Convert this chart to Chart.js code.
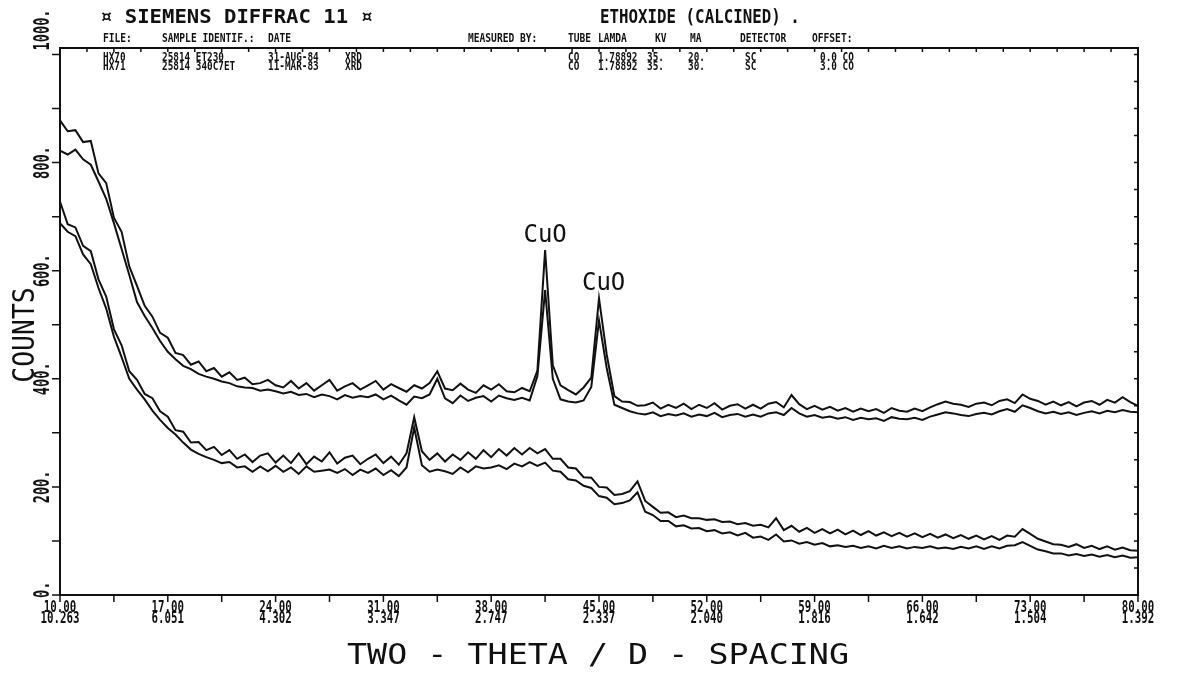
<!DOCTYPE html>
<html>
<head>
<meta charset="utf-8">
<script src="https://cdn.jsdelivr.net/npm/chart.js@4.4.0/dist/chart.umd.min.js"></script>
<style>
  html, body { margin: 0; padding: 0; background: #fff; }
  #wrap { position: relative; width: 1200px; height: 674px; }
</style>
</head>
<body>
<div id="wrap"><canvas id="xrd"></canvas></div>
<script>
// 2-theta sampling positions (degrees)
const twoTheta = [
  10, 10.5, 11, 11.5, 12, 12.5, 13, 13.5, 14, 14.5,
  15, 15.5, 16, 16.5, 17, 17.5, 18, 18.5, 19, 19.5,
  20, 20.5, 21, 21.5, 22, 22.5, 23, 23.5, 24, 24.5,
  25, 25.5, 26, 26.5, 27, 27.5, 28, 28.5, 29, 29.5,
  30, 30.5, 31, 31.5, 32, 32.5, 33, 33.5, 34, 34.5,
  35, 35.5, 36, 36.5, 37, 37.5, 38, 38.5, 39, 39.5,
  40, 40.5, 41, 41.5, 42, 42.5, 43, 43.5, 44, 44.5,
  45, 45.5, 46, 46.5, 47, 47.5, 48, 48.5, 49, 49.5,
  50, 50.5, 51, 51.5, 52, 52.5, 53, 53.5, 54, 54.5,
  55, 55.5, 56, 56.5, 57, 57.5, 58, 58.5, 59, 59.5,
  60, 60.5, 61, 61.5, 62, 62.5, 63, 63.5, 64, 64.5,
  65, 65.5, 66, 66.5, 67, 67.5, 68, 68.5, 69, 69.5,
  70, 70.5, 71, 71.5, 72, 72.5, 73, 73.5, 74, 74.5,
  75, 75.5, 76, 76.5, 77, 77.5, 78, 78.5, 79, 79.5,
  80
];

// calcined sample, two scans (CuO peaks)
const upperScanA = [
  878, 858, 860, 838, 840, 780, 762, 698, 672, 608,
  572, 535, 515, 485, 476, 448, 444, 426, 432, 414,
  420, 404, 412, 398, 402, 390, 392, 398, 388, 384,
  396, 382, 392, 378, 388, 398, 378, 386, 392, 380,
  388, 396, 380, 390, 383, 376, 388, 382, 392, 414,
  382, 379, 391, 380, 374, 388, 380, 390, 377, 375,
  383, 377, 415, 638, 425, 388, 379, 371, 384, 402,
  549, 445, 368, 358, 357, 350, 351, 356, 345, 352,
  346, 354, 344, 352, 346, 355, 343, 350, 353, 345,
  352, 345, 354, 357, 347, 370, 353, 344, 350, 343,
  348, 341, 346, 339, 345, 340, 344, 337, 346, 341,
  339, 345, 340, 347, 353, 358, 354, 352, 348, 354,
  356, 351, 359, 362, 355, 371, 363, 359, 352, 358,
  351, 357, 349, 356, 359, 352, 361, 356, 366, 357,
  350
];
const upperScanB = [
  822, 815, 824, 806, 796, 765, 733, 688, 640, 592,
  542, 516, 494, 470, 450, 436, 424, 418, 409, 404,
  400, 395, 392, 386, 384, 383, 378, 380, 377, 373,
  376, 370, 372, 366, 371, 368, 362, 370, 365, 368,
  366, 371, 362, 369, 360, 352, 367, 364, 371, 400,
  364, 355, 369, 359, 365, 368, 358, 369, 364, 361,
  365, 360, 405, 564, 400, 362, 358, 356, 360, 385,
  508, 420, 352, 346, 340, 336, 334, 338, 331, 335,
  332, 336, 330, 334, 331, 337, 329, 333, 335, 330,
  334, 330, 336, 338, 333, 346, 336, 330, 333, 328,
  330, 326, 329, 324, 328, 325, 327, 322, 329, 326,
  325, 328, 324, 330, 334, 338, 336, 333, 331, 335,
  337, 334, 340, 344, 339, 351, 346, 340, 336, 339,
  335, 338, 333, 337, 340, 336, 341, 338, 342, 339,
  338
];

// ethoxide sample, two scans
const lowerScanA = [
  728, 686, 680, 646, 636, 584, 552, 492, 462, 414,
  398, 372, 364, 340, 330, 305, 302, 282, 283, 268,
  274, 259, 268, 252, 260, 246, 258, 262, 245, 258,
  244, 262, 242, 256, 247, 264, 243, 254, 258, 242,
  252, 260, 244, 256, 241, 262, 329, 266, 250, 262,
  247, 260, 250, 264, 252, 268, 255, 270, 258, 272,
  260, 272, 262, 270, 252, 252, 236, 234, 218, 217,
  200, 199, 185, 187, 192, 210, 174, 163, 152, 153,
  144, 147, 142, 142, 139, 140, 135, 136, 131, 133,
  128, 130, 125, 142, 120, 128, 117, 124, 115, 122,
  114, 121, 112, 119, 111, 118, 110, 116, 109, 115,
  108, 114, 107, 113, 106, 112, 105, 111, 104, 110,
  103, 109, 102, 110, 108, 122, 113, 104, 99, 94,
  93, 89, 94, 87, 91, 85, 90, 84, 88, 83,
  82
];
const lowerScanB = [
  688, 672, 664, 630, 612, 568, 530, 478, 440, 400,
  380, 362, 341, 324, 309, 297, 282, 269, 261, 255,
  250, 244, 246, 236, 238, 228, 238, 229, 239, 228,
  236, 224, 238, 228, 230, 232, 226, 233, 222, 232,
  226, 234, 222, 231, 220, 236, 310, 240, 228, 232,
  229, 224, 236, 227, 238, 234, 236, 240, 233, 243,
  238, 246, 239, 245, 230, 228, 214, 212, 202, 198,
  183, 180, 168, 170, 175, 190, 154, 148, 137, 137,
  127, 129, 123, 124, 118, 120, 114, 116, 110, 115,
  106, 108, 102, 112, 99, 101, 95, 98, 93, 96,
  90, 92, 89, 91, 87, 90, 86, 91, 87, 90,
  86, 89, 87, 90, 86, 88, 85, 89, 86, 90,
  85, 90, 86, 91, 92, 98, 91, 84, 81, 77,
  77, 73, 76, 72, 75, 71, 74, 70, 73, 69,
  70
];

// axis ticks and labels
const thetaTicks = [10, 17, 24, 31, 38, 45, 52, 59, 66, 73, 80];
const thetaLabels = ["10.00", "17.00", "24.00", "31.00", "38.00", "45.00",
  "52.00", "59.00", "66.00", "73.00", "80.00"];
const dSpacingLabels = ["10.263", "6.051", "4.302", "3.347", "2.747", "2.337",
  "2.040", "1.816", "1.642", "1.504", "1.392"];
const countTicks = [0, 200, 400, 600, 800, 1000];
const countLabels = ["0.", "200.", "400.", "600.", "800.", "1000."];

// peak annotations
const peakNames = ["CuO", "CuO"];
const peakTheta = [41.5, 45.3];
const peakCounts = [638, 549];

// header block
const headerColumns = ["FILE:", "SAMPLE IDENTIF.:", "DATE", "MEASURED BY:", "TUBE",
  "LAMDA", "KV", "MA", "DETECTOR", "OFFSET:"];
const headerRow1 = ["HX70", "25814 ET230", "31-AUG-84", "XRD", "CO", "1.78892", "35.", "20.", "SC", "0.0 CO"];
const headerRow2 = ["HX71", "25814 340C7ET", "11-MAR-83", "XRD", "CO", "1.78892", "35.", "30.", "SC", "3.0 CO"];

const MONO = "'DejaVu Sans Mono', 'Liberation Mono', monospace";
const INK = "#111";

function drawText(ctx, s, x, y, font, o = {}) {
  ctx.save();
  ctx.translate(x, y);
  if (o.rot) ctx.rotate(o.rot);
  ctx.scale(o.sx || 1, o.sy || 1);
  ctx.font = font;
  ctx.fillStyle = INK;
  ctx.textAlign = o.align || "left";
  ctx.textBaseline = o.base || "alphabetic";
  ctx.fillText(s, 0, 0);
  ctx.restore();
}

const plotterFrame = {
  id: "plotterFrame",
  afterDraw(chart) {
    const { ctx, chartArea: a, scales: { x, y } } = chart;
    ctx.save();
    ctx.strokeStyle = INK;
    ctx.lineWidth = 2;
    ctx.strokeRect(a.left, a.top, a.right - a.left, a.bottom - a.top);

    ctx.lineWidth = 1.5;
    ctx.beginPath();
    // bottom ticks every 3.5 deg, hanging below the axis
    for (let t = 10; t <= 80.001; t += 3.5) {
      const px = x.getPixelForValue(t);
      ctx.moveTo(px, a.bottom);
      ctx.lineTo(px, a.bottom + 7);
    }
    // top ticks every 1.75 deg, pointing inward
    for (let t = 10; t <= 80.001; t += 1.75) {
      const px = x.getPixelForValue(t);
      ctx.moveTo(px, a.top);
      ctx.lineTo(px, a.top + 4);
    }
    // left ticks every 100 counts
    for (let c = 0; c <= 1000; c += 100) {
      const py = y.getPixelForValue(c);
      ctx.moveTo(a.left - 8, py);
      ctx.lineTo(a.left, py);
    }
    // right ticks every 50 counts
    for (let c = 50; c <= 1000; c += 50) {
      const py = y.getPixelForValue(c);
      ctx.moveTo(a.right - 4, py);
      ctx.lineTo(a.right, py);
    }
    ctx.stroke();

    // x tick labels: 2-theta over d-spacing
    thetaTicks.forEach((t, i) => {
      const px = x.getPixelForValue(t);
      drawText(ctx, thetaLabels[i], px, a.bottom + 17, "bold 15px " + MONO, { align: "center", sx: 0.72 });
      drawText(ctx, dSpacingLabels[i], px, a.bottom + 28, "bold 15px " + MONO, { align: "center", sx: 0.72 });
    });

    // y tick labels, rotated; the end ones sit beside the tick
    countTicks.forEach((c, i) => {
      const py = y.getPixelForValue(c);
      let align = "center";
      let at = py;
      if (i === countTicks.length - 1) { align = "left"; at = py - 4; }
      if (i === 0) { align = "left"; at = py + 3; }
      drawText(ctx, countLabels[i], a.left - 11, at, "bold 22px " + MONO,
        { rot: -Math.PI / 2, align, sx: 0.62 });
    });

    // axis titles
    drawText(ctx, "COUNTS", 34, 335, "30px " + MONO, { rot: -Math.PI / 2, align: "center", sx: 0.88 });
    drawText(ctx, "TWO - THETA / D - SPACING", 598, 664, "29px " + MONO, { align: "center", sx: 1.15 });

    // peak labels
    peakNames.forEach((n, i) => {
      drawText(ctx, n, x.getPixelForValue(peakTheta[i]), y.getPixelForValue(peakCounts[i]) - 8,
        "24px " + MONO, { align: "center" });
    });

    // header
    drawText(ctx, "\u00a4 SIEMENS DIFFRAC 11 \u00a4", 100, 23, "bold 20px " + MONO, { sx: 1.03 });
    drawText(ctx, "ETHOXIDE (CALCINED) .", 600, 23, "bold 20px " + MONO, { sx: 0.79 });
    const colX = [103, 162, 268, 468, 568, 598, 655, 690, 740, 812];
    const rowX = [103, 162, 268, 345, 568, 598, 647, 688, 745, 820];
    headerColumns.forEach((s, i) => drawText(ctx, s, colX[i], 42, "bold 12px " + MONO, { sx: 0.8 }));
    headerRow1.forEach((s, i) => drawText(ctx, s, rowX[i], 61, "bold 12px " + MONO, { sx: 0.78 }));
    headerRow2.forEach((s, i) => drawText(ctx, s, rowX[i], 70, "bold 12px " + MONO, { sx: 0.78 }));
    ctx.restore();
  },
};

function scan(values) {
  return twoTheta.map((t, i) => ({ x: t, y: values[i] }));
}

const lineStyle = {
  borderColor: INK,
  borderWidth: 2,
  pointRadius: 0,
  tension: 0,
  fill: false,
};

new Chart(document.getElementById("xrd"), {
  type: "line",
  data: {
    datasets: [
      { label: "HX70 a", data: scan(upperScanA), ...lineStyle },
      { label: "HX70 b", data: scan(upperScanB), ...lineStyle },
      { label: "HX71 a", data: scan(lowerScanA), ...lineStyle },
      { label: "HX71 b", data: scan(lowerScanB), ...lineStyle },
    ],
  },
  options: {
    responsive: true,
    maintainAspectRatio: false,
    animation: false,
    devicePixelRatio: 1,
    layout: { padding: { left: 60, right: 62, top: 48, bottom: 79 } },
    plugins: { legend: { display: false }, tooltip: { enabled: false } },
    scales: {
      x: { type: "linear", min: 10, max: 80, display: false },
      y: { type: "linear", min: 0, max: 1012, display: false },
    },
  },
  plugins: [plotterFrame],
});
</script>
</body>
</html>
